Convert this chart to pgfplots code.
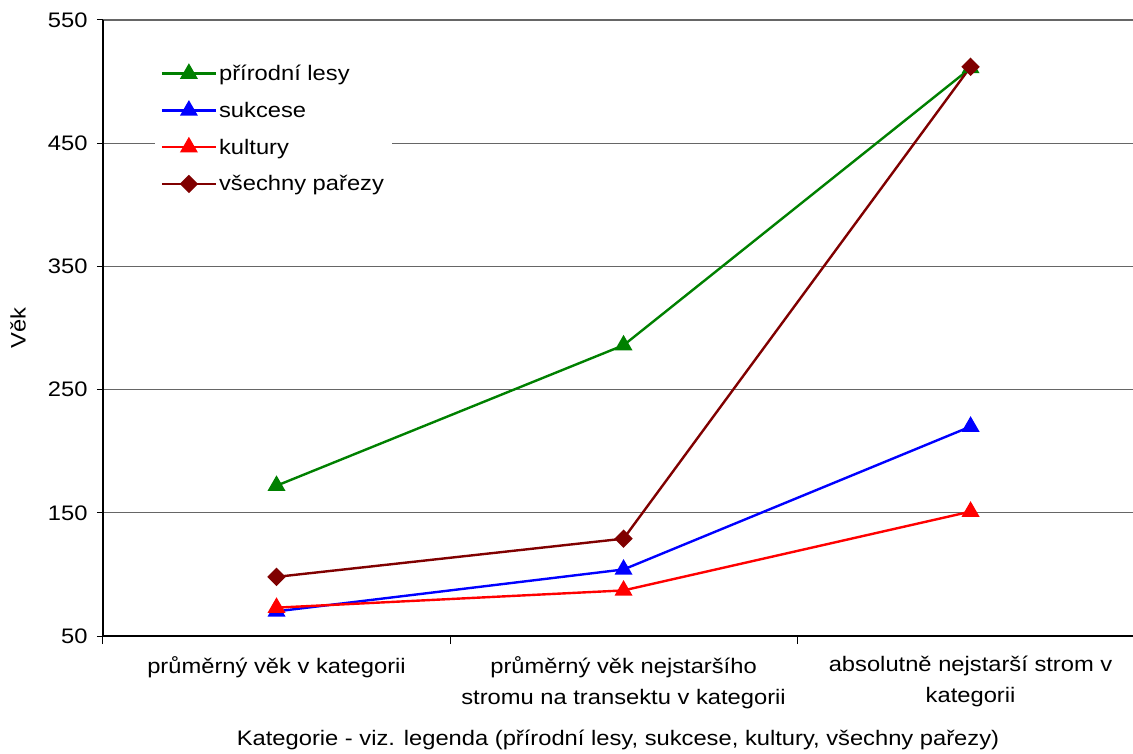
\documentclass[border=0pt]{standalone}
\usepackage{fontspec}
\setmainfont{Liberation Sans}[FakeStretch=1.13]
\usepackage{pgfplots}
\pgfplotsset{compat=1.18}

\definecolor{cgreen}{RGB}{0,128,0}
\definecolor{cblue}{RGB}{0,0,255}
\definecolor{cred}{RGB}{255,0,0}
\definecolor{cdark}{RGB}{128,0,0}
\newcommand{\lbl}{\fontsize{21}{31}\selectfont}

\begin{document}
\begin{tikzpicture}
\begin{axis}[
  scale only axis, width=1030pt, height=616pt,
  xmin=-0.5, xmax=2.468, ymin=50, ymax=550,
  axis x line*=bottom, axis y line*=left,
  axis line style={black, line width=1.5pt},
  ytick={50,150,...,550},
  xtick={0,1,2},
  xticklabels={{průměrný věk v kategorii},
    {průměrný věk nejstaršího\\stromu na transektu v kategorii},
    {absolutně nejstarší strom v\\kategorii}},
  xticklabel style={align=center, font=\lbl, yshift=-11pt},
  yticklabel style={font=\lbl, xshift=-6pt},
  /pgf/number format/assume math mode=true,
  major x tick style={draw=none},
  minor xtick={-0.5,0.5,1.5},
  tick align=outside, major tick length=6pt, minor tick length=8pt,
  tick style={black, line width=1pt},
  ymajorgrids, grid style={black!60, line width=1.2pt},
  xlabel={Kategorie - viz. legenda (přírodní lesy, sukcese, kultury, všechny pařezy)},
  xlabel style={font=\lbl, at={(axis description cs:0.5,0)}, yshift=-104pt, anchor=center},
  ylabel={Věk},
  ylabel style={font=\lbl, at={(axis description cs:0,0.5)}, yshift=85pt, anchor=center},
  legend style={at={(axis description cs:0.05,0.94)}, anchor=north west,
    draw=none, fill=white, font=\lbl, row sep=16pt, inner xsep=6pt, inner ysep=6pt,
    legend cell align=left},
  legend image code/.code={\draw[mark repeat=2,mark phase=2] plot coordinates {(0pt,0pt)(27pt,0pt)(54pt,0pt)};},
  every axis plot/.append style={line width=2.4pt},
]
\addplot[cgreen, mark=triangle*, mark size=8pt, mark options={solid, fill=cgreen}] coordinates {(0,172) (1,286) (2,511)};
\addlegendentry{přírodní lesy}
\addplot[cblue, mark=triangle*, mark size=8pt, mark options={solid, fill=cblue}] coordinates {(0,70) (1,104) (2,220)};
\addlegendentry{sukcese}
\addplot[cred, mark=triangle*, mark size=8pt, mark options={solid, fill=cred}] coordinates {(0,73) (1,87) (2,151)};
\addlegendentry{kultury}
\addplot[cdark, mark=square*, mark size=5.3pt, mark options={solid, fill=cdark, rotate=45}] coordinates {(0,98) (1,129) (2,512)};
\addlegendentry{všechny pařezy}
\end{axis}
\pgfresetboundingbox
\useasboundingbox (-103pt,-117pt) rectangle (1030pt,636pt);
\end{tikzpicture}
\end{document}
